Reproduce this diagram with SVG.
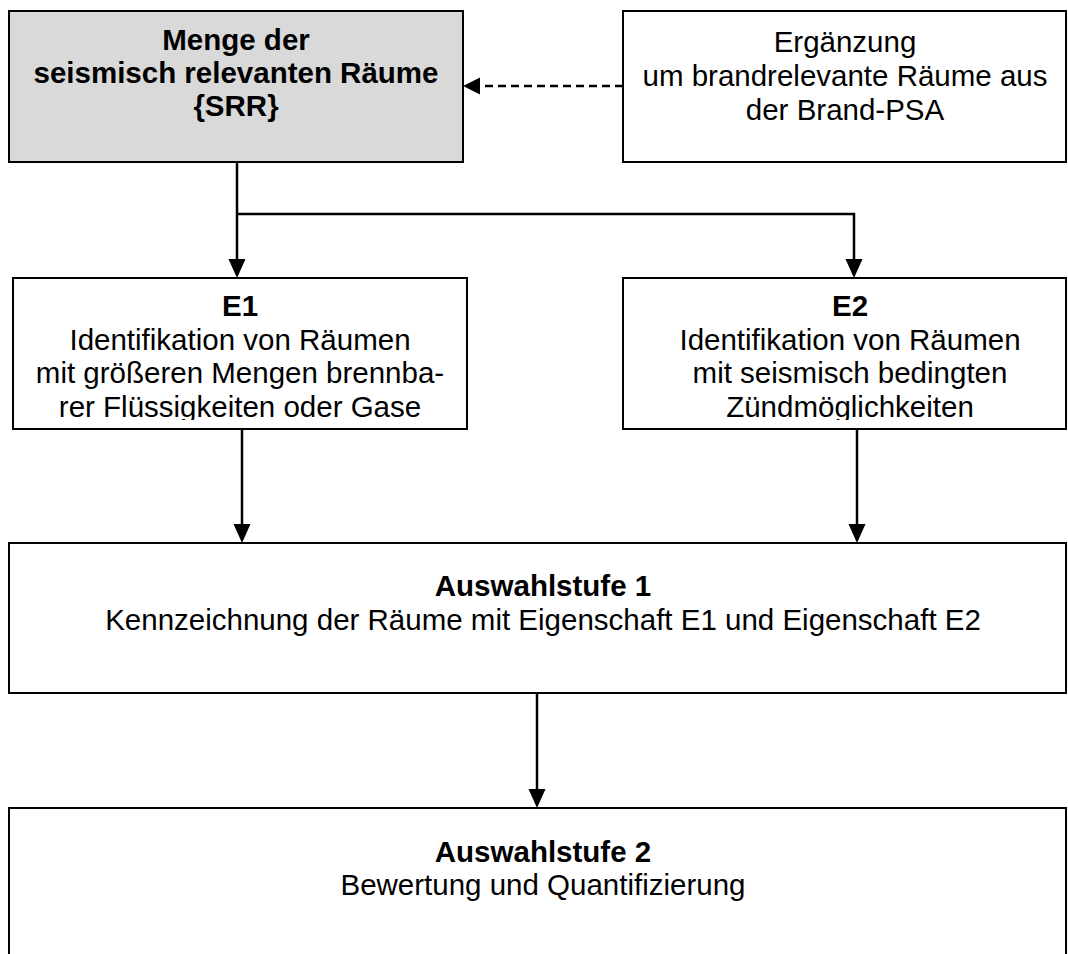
<svg xmlns="http://www.w3.org/2000/svg" width="1068" height="954" viewBox="0 0 1068 954">
  <style>
    .box { fill: #ffffff; stroke: #000000; stroke-width: 2; }
    .grey { fill: #d9d9d9; }
    .t { font-family: "Liberation Sans", Arial, sans-serif; font-size: 29.5px; fill: #000000; text-anchor: middle; }
    .b { font-weight: bold; }
    .conn { fill: none; stroke: #000000; stroke-width: 2.5; }
    .dash { stroke-dasharray: 8 5; }
  </style>
  <defs>
    <marker id="arr" markerUnits="userSpaceOnUse" markerWidth="20" markerHeight="20" viewBox="0 -10 20 20" refX="0" refY="0" orient="auto">
      <path d="M0,-8.5 L19,0 L0,8.5 Z" fill="#000000"/>
    </marker>
    <marker id="arrD" markerUnits="userSpaceOnUse" markerWidth="20" markerHeight="20" viewBox="0 -10 20 20" refX="0" refY="0" orient="auto">
      <path d="M0,-8.5 L17,0 L0,8.5 Z" fill="#000000"/>
    </marker>
    <clipPath id="clipE1"><rect x="14" y="279" width="452" height="141"/></clipPath>
    <clipPath id="clipE2"><rect x="624" y="279" width="441" height="141"/></clipPath>
  </defs>

  <g id="connectors">
    <path class="conn" d="M237,162 V259" marker-end="url(#arr)"/>
    <path class="conn" d="M237,214 H854 V259" marker-end="url(#arr)"/>
    <path class="conn" d="M242,430 V524" marker-end="url(#arr)"/>
    <path class="conn" d="M857,430 V524" marker-end="url(#arr)"/>
    <path class="conn" d="M537,693 V789" marker-end="url(#arr)"/>
    <path class="conn dash" d="M623,86 H480" marker-end="url(#arrD)"/>
  </g>

  <g id="node-srr">
    <rect class="box grey" x="9" y="11" width="454" height="151"/>
    <text class="t b" x="236" y="50">Menge der</text>
    <text class="t b" x="236" y="83">seismisch relevanten Räume</text>
    <text class="t b" x="236" y="116">{SRR}</text>
  </g>

  <g id="node-ergaenzung">
    <rect class="box" x="623" y="11" width="443" height="151"/>
    <text class="t" x="845" y="52">Ergänzung</text>
    <text class="t" x="845" y="86">um brandrelevante Räume aus</text>
    <text class="t" x="845" y="120">der Brand-PSA</text>
  </g>

  <g id="node-e1">
    <rect class="box" x="13" y="278" width="454" height="151"/>
    <g clip-path="url(#clipE1)">
      <text class="t b" x="240" y="316">E1</text>
      <text class="t" x="240" y="350">Identifikation von Räumen</text>
      <text class="t" x="240" y="383">mit größeren Mengen brennba-</text>
      <text class="t" x="240" y="417">rer Flüssigkeiten oder Gase</text>
    </g>
  </g>

  <g id="node-e2">
    <rect class="box" x="623" y="278" width="443" height="151"/>
    <g clip-path="url(#clipE2)">
      <text class="t b" x="850" y="316">E2</text>
      <text class="t" x="850" y="350">Identifikation von Räumen</text>
      <text class="t" x="850" y="383">mit seismisch bedingten</text>
      <text class="t" x="850" y="417">Zündmöglichkeiten</text>
    </g>
  </g>

  <g id="node-auswahlstufe1">
    <rect class="box" x="9" y="543" width="1057" height="150"/>
    <text class="t b" x="543" y="596">Auswahlstufe 1</text>
    <text class="t" x="543" y="630">Kennzeichnung der Räume mit Eigenschaft E1 und Eigenschaft E2</text>
  </g>

  <g id="node-auswahlstufe2">
    <rect class="box" x="9" y="808" width="1057" height="170"/>
    <text class="t b" x="543" y="862">Auswahlstufe 2</text>
    <text class="t" x="543" y="895">Bewertung und Quantifizierung</text>
  </g>
</svg>
